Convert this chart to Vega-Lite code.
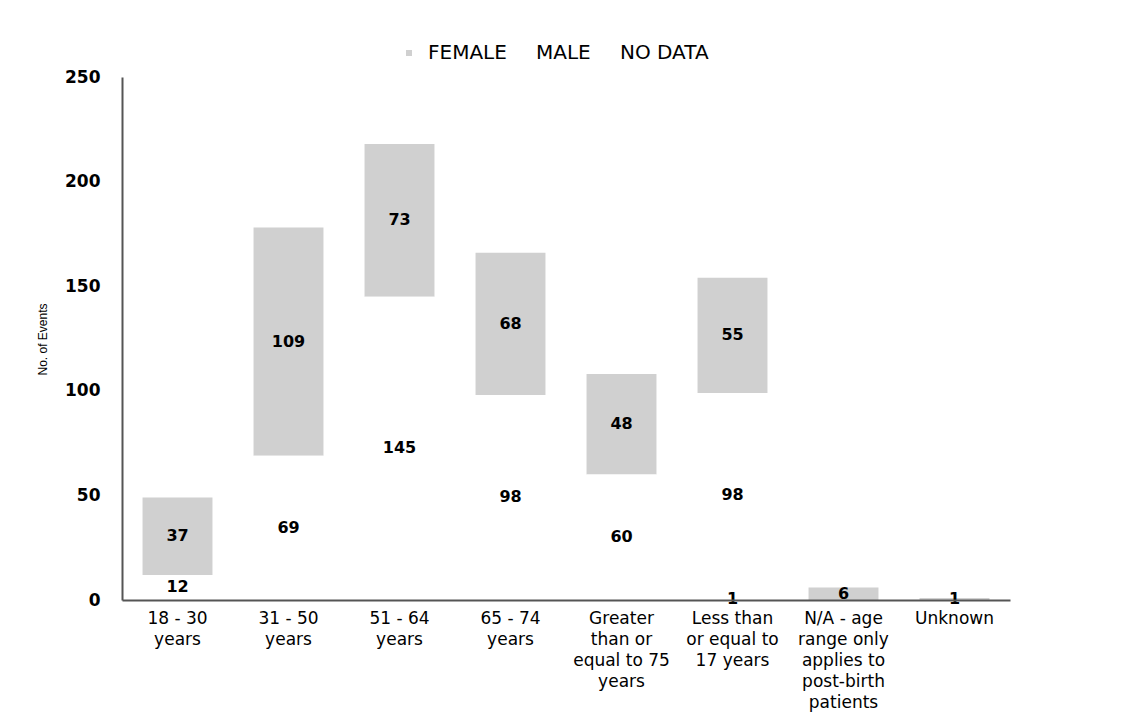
{
  "$schema": "https://vega.github.io/schema/vega-lite/v6.json",
  "autosize": {"type": "none"},
  "width": 888,
  "height": 523,
  "padding": {"left": 122, "top": 77, "right": 120, "bottom": 113},
  "background": "white",
  "config": {"font": "DejaVu Sans", "view": {"stroke": null}},
  "data": {
    "values": [
      {"age": "18 - 30 years", "sex": "FEMALE", "count": 37},
      {"age": "18 - 30 years", "sex": "MALE", "count": 12},
      {"age": "31 - 50 years", "sex": "FEMALE", "count": 109},
      {"age": "31 - 50 years", "sex": "MALE", "count": 69},
      {"age": "51 - 64 years", "sex": "FEMALE", "count": 73},
      {"age": "51 - 64 years", "sex": "MALE", "count": 145},
      {"age": "65 - 74 years", "sex": "FEMALE", "count": 68},
      {"age": "65 - 74 years", "sex": "MALE", "count": 98},
      {"age": "Greater than or equal to 75 years", "sex": "FEMALE", "count": 48},
      {"age": "Greater than or equal to 75 years", "sex": "MALE", "count": 60},
      {"age": "Less than or equal to 17 years", "sex": "FEMALE", "count": 55},
      {"age": "Less than or equal to 17 years", "sex": "MALE", "count": 98},
      {"age": "Less than or equal to 17 years", "sex": "NO DATA", "count": 1},
      {"age": "N/A - age range only applies to post-birth patients", "sex": "FEMALE", "count": 6},
      {"age": "Unknown", "sex": "FEMALE", "count": 1}
    ]
  },
  "transform": [
    {"stack": "count", "groupby": ["age"], "sort": [{"field": "sex", "order": "descending"}], "as": ["y0", "y1"]},
    {"calculate": "(datum.y0 + datum.y1) / 2", "as": "ymid"}
  ],
  "layer": [
    {
      "mark": {"type": "bar"},
      "encoding": {
        "x": {
          "field": "age", "type": "nominal", "sort": null,
          "scale": {"paddingInner": 0.37, "paddingOuter": 0.185},
          "axis": {
            "title": null, "labelAngle": 0, "ticks": false, "zindex": 1,
            "domainColor": "#555555", "domainWidth": 2,
            "labelFontSize": 17, "labelLineHeight": 21, "labelPadding": 10,
            "labelColor": "black", "labelBaseline": "top", "labelLimit": 200,
            "labelExpr": "{'18 - 30 years': ['18 - 30', 'years'], '31 - 50 years': ['31 - 50', 'years'], '51 - 64 years': ['51 - 64', 'years'], '65 - 74 years': ['65 - 74', 'years'], 'Greater than or equal to 75 years': ['Greater', 'than or', 'equal to 75', 'years'], 'Less than or equal to 17 years': ['Less than', 'or equal to', '17 years'], 'N/A - age range only applies to post-birth patients': ['N/A - age', 'range only', 'applies to', 'post-birth', 'patients'], 'Unknown': ['Unknown']}[datum.value]"
          }
        },
        "y": {
          "field": "y0", "type": "quantitative",
          "scale": {"domain": [0, 250], "nice": false},
          "axis": {
            "values": [0, 50, 100, 150, 200, 250], "grid": false, "ticks": false, "zindex": 1,
            "domainColor": "#555555", "domainWidth": 2,
            "labelFontSize": 17, "labelFontWeight": "bold", "labelPadding": 22, "labelColor": "black",
            "title": "No. of Events", "titleFont": "Liberation Sans", "titleFontSize": 12, "titleFontWeight": "normal",
            "titleAngle": 270, "titleX": -80, "titleY": 262, "titleAlign": "center", "titleBaseline": "middle"
          }
        },
        "y2": {"field": "y1"},
        "color": {
          "field": "sex", "type": "nominal",
          "scale": {"domain": ["FEMALE", "MALE", "NO DATA"], "range": ["#d0d0d0", "#ffffff", "#ffffff"]},
          "legend": {
            "orient": "none", "legendX": 277, "legendY": -34, "direction": "horizontal",
            "title": null, "labelFontSize": 20, "labelColor": "black",
            "symbolType": "square", "symbolSize": 36, "symbolStrokeWidth": 0,
            "columnPadding": 0, "labelOffset": 9
          }
        }
      }
    },
    {
      "mark": {"type": "text", "fontWeight": "bold", "fontSize": 16, "color": "black"},
      "encoding": {
        "x": {"field": "age", "type": "nominal", "sort": null},
        "y": {"field": "ymid", "type": "quantitative"},
        "text": {"field": "count"}
      }
    }
  ]
}
